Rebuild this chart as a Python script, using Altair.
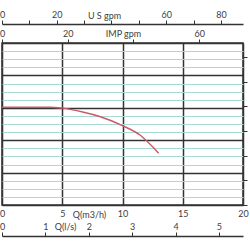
import altair as alt
import pandas as pd

# Pump curve (flow in m3/h, head in m)
FLOW_M3H = [0, 2.5, 4.0, 5.0, 6.7, 8.1, 10.0, 11.45, 13.0]
HEAD_M = [30.2, 30.2, 30.2, 29.9, 28.7, 27.3, 24.5, 21.6, 16.0]

# Axis ticks in each unit
M3H_TICKS = [0, 5, 10, 15, 20]
LS_TICKS = [0, 1, 2, 3, 4, 5]
USGPM_TICKS = [0, 10, 20, 30, 40, 50, 60, 70, 80]
IMPGPM_TICKS = [0, 20, 40, 60]
HEAD_GRID_M = [0, 2.5, 5, 7.5, 10, 12.5, 15, 17.5, 20, 22.5, 25, 27.5, 30,
               32.5, 35, 37.5, 40, 42.5, 45, 47.5, 50]
HEAD_FT_TICKS = [0, 25, 50, 75, 100, 125, 150]

Q_MAX = 20.0
H_MAX = 50.0
LS_PER_M3H = 1 / 3.6
USGPM_PER_M3H = 4.40287
IMPGPM_PER_M3H = 3.66615
FT_PER_M = 1 / 0.3048

FONT = "Lato"
FS = 9
DARK = "#333333"
CYAN = "#a6dbd4"
TXT = "#404040"

curve_df = pd.DataFrame({"q": FLOW_M3H, "h": HEAD_M})

main = alt.Chart(curve_df).mark_line(
    color="#cc5a66", strokeWidth=1.5, interpolate="monotone"
).encode(
    x=alt.X("q:Q", scale=alt.Scale(domain=[0, Q_MAX], nice=False, zero=True),
            axis=alt.Axis(orient="bottom", values=M3H_TICKS, grid=True,
                          gridColor=DARK, gridWidth=1.5, ticks=False,
                          domain=False, labelPadding=4, labelFontSize=FS,
                          labelFont=FONT, labelColor=TXT, labelFlush=False,
                          title="Q(m3/h)", titleX=87, titleY=9,
                          titleBaseline="middle", titleAlign="center",
                          titleFont=FONT, titleFontSize=FS,
                          titleFontWeight="normal", titleColor=TXT)),
    y=alt.Y("h:Q", scale=alt.Scale(domain=[0, H_MAX], nice=False),
            axis=alt.Axis(orient="left", values=HEAD_GRID_M, grid=True,
                          gridColor=alt.condition("datum.value % 10 === 0",
                                                  alt.value(DARK), alt.value(CYAN)),
                          gridWidth=alt.condition("datum.value % 10 === 0",
                                                  alt.value(1.5), alt.value(1)),
                          labels=False, ticks=False, domain=False, title=None)),
)

ft_layer = alt.Chart(pd.DataFrame({"ft": HEAD_FT_TICKS})).mark_point(opacity=0).encode(
    y=alt.Y("ft:Q", scale=alt.Scale(domain=[0, H_MAX * FT_PER_M], nice=False),
            axis=alt.Axis(orient="right", values=HEAD_FT_TICKS, labels=False,
                          ticks=True, tickSize=4, tickColor=DARK, tickWidth=1,
                          domain=False, grid=False, title=None)),
)

ls_layer = alt.Chart(pd.DataFrame({"ls": LS_TICKS})).mark_point(opacity=0).encode(
    x=alt.X("ls:Q", scale=alt.Scale(domain=[0, Q_MAX * LS_PER_M3H], nice=False),
            axis=alt.Axis(orient="top", offset=-193, values=LS_TICKS, grid=False,
                          domain=True, domainColor=DARK, domainWidth=1.5,
                          ticks=True, tickSize=4, tickColor=DARK, tickWidth=1,
                          labelPadding=1, labelFontSize=FS, labelFont=FONT,
                          labelColor=TXT, labelFlush=False,
                          title="Q(l/s)", titleX=63, titleY=-10,
                          titleBaseline="middle", titleAlign="center",
                          titleFont=FONT, titleFontSize=FS,
                          titleFontWeight="normal", titleColor=TXT)),
)

us_layer = alt.Chart(pd.DataFrame({"us": USGPM_TICKS})).mark_point(opacity=0).encode(
    x=alt.X("us:Q", scale=alt.Scale(domain=[0, Q_MAX * USGPM_PER_M3H], nice=False),
            axis=alt.Axis(orient="top", offset=19, values=USGPM_TICKS, grid=False,
                          domain=True, domainColor=DARK, domainWidth=1.5,
                          ticks=True, tickSize=4, tickColor=DARK, tickWidth=1,
                          labelExpr="datum.value % 20 === 0 && datum.value != 40 ? datum.label : ''",
                          labelPadding=1, labelFontSize=FS, labelFont=FONT,
                          labelColor=TXT, labelFlush=False,
                          title="U S gpm", titleX=102, titleY=-9,
                          titleBaseline="middle", titleAlign="center",
                          titleFont=FONT, titleFontSize=FS,
                          titleFontWeight="normal", titleColor=TXT)),
)

imp_layer = alt.Chart(pd.DataFrame({"imp": IMPGPM_TICKS})).mark_point(opacity=0).encode(
    x=alt.X("imp:Q", scale=alt.Scale(domain=[0, Q_MAX * IMPGPM_PER_M3H], nice=False),
            axis=alt.Axis(orient="top", offset=0, values=IMPGPM_TICKS, grid=False,
                          domain=False, ticks=True, tickSize=4, tickColor=DARK,
                          tickWidth=1,
                          labelExpr="datum.value != 40 ? datum.label : ''",
                          labelPadding=1, labelFontSize=FS, labelFont=FONT,
                          labelColor=TXT, labelFlush=False,
                          title="IMP gpm", titleX=121, titleY=-10,
                          titleBaseline="middle", titleAlign="center",
                          titleFont=FONT, titleFontSize=FS,
                          titleFontWeight="normal", titleColor=TXT)),
)

chart = alt.layer(main, ft_layer, ls_layer, us_layer, imp_layer).resolve_scale(
    x="independent", y="independent"
).properties(
    width=241, height=162,
    autosize=alt.AutoSizeParams(type="none"),
    padding={"left": 2, "top": 43, "right": 7, "bottom": 45},
    background="white",
).configure_view(stroke=DARK, strokeWidth=1.5)

chart.save("out.html", embed_options={"renderer": "svg", "actions": False})
